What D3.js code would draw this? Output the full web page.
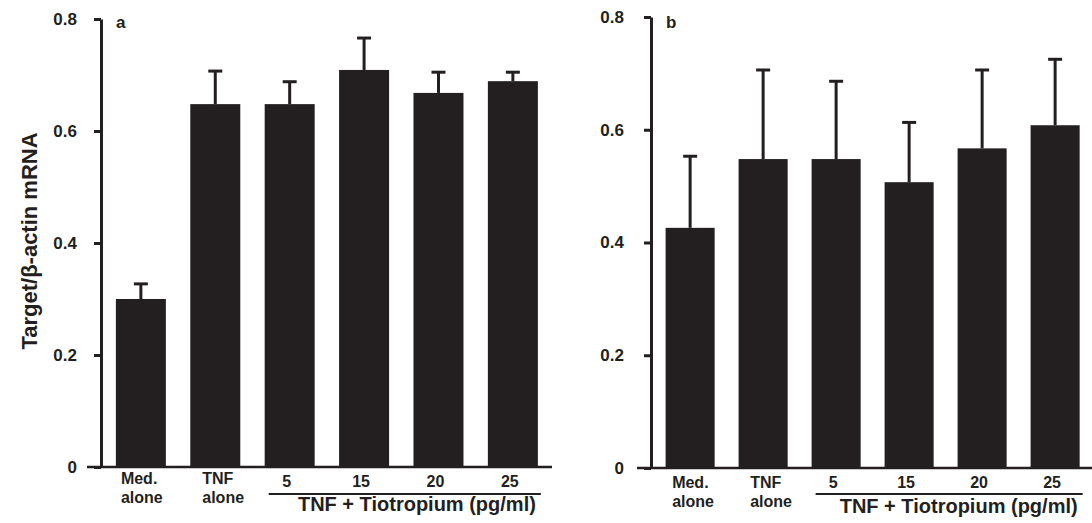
<!DOCTYPE html>
<html>
<head>
<script src="https://d3js.org/d3.v7.min.js"></script>
<style>
  body { margin: 0; background: #fff; }
  text { font-family: "Liberation Sans", Arial, sans-serif; font-weight: bold; fill: #231f20; }
</style>
</head>
<body>
<script>
// data
var categories = ["Med.", "TNF", "5", "15", "20", "25"];
var subLabels = ["alone", "alone", "", "", "", ""];
var meansA = [0.300, 0.648, 0.648, 0.709, 0.668, 0.689];
var errA   = [0.027, 0.059, 0.040, 0.057, 0.037, 0.016];
var meansB = [0.426, 0.548, 0.548, 0.507, 0.567, 0.608];
var errB   = [0.127, 0.158, 0.138, 0.106, 0.139, 0.117];
var yTicks = [0, 0.2, 0.4, 0.6, 0.8];
var groupTitle = "TNF + Tiotropium (pg/ml)";

var width = 1092, height = 523;
var ink = "#231f20";

var svg = d3.select("body").append("svg")
    .attr("width", width)
    .attr("height", height);

// y axis title
svg.append("text")
    .attr("transform", "translate(37,241) rotate(-90)")
    .attr("text-anchor", "middle")
    .style("font-size", "22px")
    .text("Target/\u03b2-actin mRNA");

function panel(opts) {
    var g = svg.append("g");

    var x = d3.scaleBand()
        .domain(categories)
        .range([opts.axisX, opts.axisX + opts.step * 6.072])
        .paddingInner(0.328)
        .paddingOuter(0.2);

    var y = d3.scaleLinear()
        .domain([0, 0.8])
        .range([opts.y0, opts.y8]);

    var data = categories.map(function(c, i) {
        return { cat: c, sub: subLabels[i], mean: opts.means[i], err: opts.errs[i] };
    });

    // error bars (drawn first, bars cover the lower half)
    var eb = g.selectAll(".eb").data(data).enter().append("g");
    eb.append("line")
        .attr("x1", function(d) { return x(d.cat) + x.bandwidth() / 2; })
        .attr("x2", function(d) { return x(d.cat) + x.bandwidth() / 2; })
        .attr("y1", function(d) { return y(d.mean); })
        .attr("y2", function(d) { return y(d.mean + d.err); })
        .attr("stroke", ink)
        .attr("stroke-width", 3);
    eb.append("line")
        .attr("x1", function(d) { return x(d.cat) + x.bandwidth() / 2 - 7; })
        .attr("x2", function(d) { return x(d.cat) + x.bandwidth() / 2 + 7; })
        .attr("y1", function(d) { return y(d.mean + d.err); })
        .attr("y2", function(d) { return y(d.mean + d.err); })
        .attr("stroke", ink)
        .attr("stroke-width", 3);

    g.selectAll(".bar").data(data).enter().append("rect")
        .attr("x", function(d) { return x(d.cat); })
        .attr("width", x.bandwidth())
        .attr("y", function(d) { return y(d.mean); })
        .attr("height", function(d) { return y(0) - y(d.mean); })
        .attr("fill", ink);

    // y axis
    var yAxis = d3.axisLeft(y)
        .tickValues(yTicks)
        .tickSize(7)
        .tickSizeOuter(0)
        .tickPadding(opts.tickPad)
        .tickFormat(function(d) { return d === 0 ? "0" : d3.format(".1f")(d); });
    var ya = g.append("g")
        .attr("transform", "translate(" + opts.axisX + ",0)")
        .call(yAxis);
    ya.select(".domain").attr("stroke", ink).attr("stroke-width", 3);
    ya.selectAll(".tick line").attr("stroke", ink).attr("stroke-width", 3);
    ya.selectAll(".tick text")
        .style("font-size", "17px")
        .style("font-family", "'Liberation Sans', Arial, sans-serif")
        .style("font-weight", "bold")
        .attr("fill", ink);

    // baseline
    g.append("line")
        .attr("x1", opts.axisX - 14)
        .attr("x2", opts.baseEnd)
        .attr("y1", y(0))
        .attr("y2", y(0))
        .attr("stroke", ink)
        .attr("stroke-width", 2.7);

    // panel letter
    g.append("text")
        .attr("x", opts.axisX + 15)
        .attr("y", 28)
        .style("font-size", "17px")
        .text(opts.letter);

    // category labels
    data.slice(0, 2).forEach(function(d, i) {
        var cx = x(d.cat) + x.bandwidth() / 2 + opts.lblShift[i];
        g.append("text")
            .attr("x", cx - 22)
            .attr("y", opts.lblY)
            .style("font-size", "16px")
            .text(d.cat);
        g.append("text")
            .attr("x", cx - 22)
            .attr("y", opts.lblY + 19)
            .style("font-size", "16px")
            .text(d.sub);
    });
    data.slice(2).forEach(function(d) {
        g.append("text")
            .attr("x", x(d.cat) + x.bandwidth() / 2 - 3)
            .attr("y", opts.numY)
            .attr("text-anchor", "middle")
            .style("font-size", "16px")
            .text(d.cat);
    });

    // group underline + title
    g.append("line")
        .attr("x1", x("5") + 4)
        .attr("x2", x("25") + x.bandwidth() + 3)
        .attr("y1", 494)
        .attr("y2", 494)
        .attr("stroke", ink)
        .attr("stroke-width", 2);
    g.append("text")
        .attr("x", x("25") + x.bandwidth() - 2)
        .attr("y", opts.titleY)
        .attr("text-anchor", "end")
        .style("font-size", "20px")
        .text(groupTitle);
}

panel({
    letter: "a", means: meansA, errs: errA,
    axisX: 101, step: 74.4, y0: 467, y8: 19, tickPad: 17,
    baseEnd: 552, lblY: 484, numY: 487, titleY: 511, lblShift: [2, 9]
});
panel({
    letter: "b", means: meansB, errs: errB,
    axisX: 651, step: 73, y0: 468, y8: 17, tickPad: 20,
    baseEnd: 1092, lblY: 488, numY: 488, titleY: 513, lblShift: [4, 9]
});
</script>
</body>
</html>
